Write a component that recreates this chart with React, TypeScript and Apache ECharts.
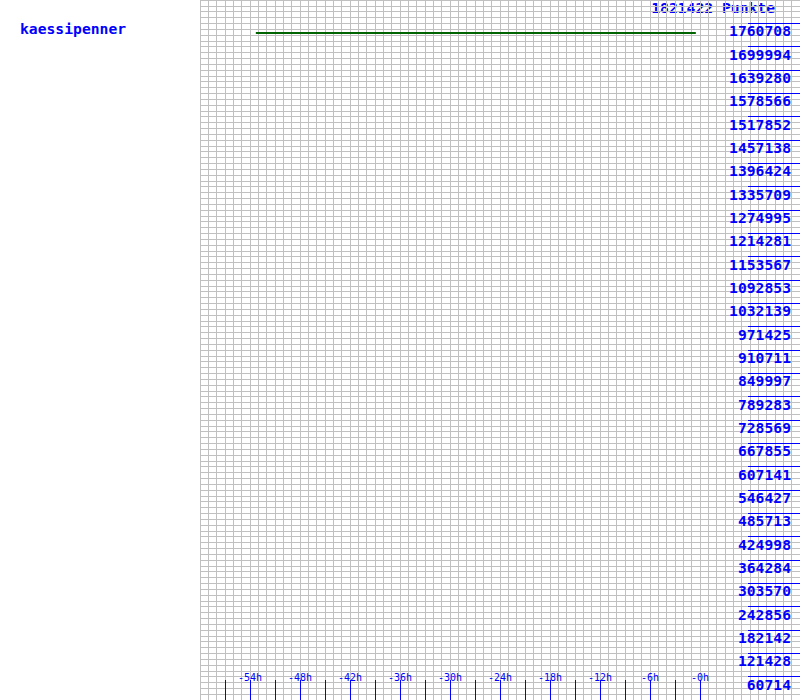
import React, { useEffect, useRef } from "react";
import * as echarts from "echarts";

// ---- data ----
const playerName = "kaessipenner";
const maxPoints = 1821422; // top of the y scale
const yLabelSteps = 30; // labelled steps on the y scale
const yGridRows = 120; // grey grid rows
const xMinHours = -60;
const xMaxHours = 12;
const xTickHours = [-57, -54, -51, -48, -45, -42, -39, -36, -33, -30, -27, -24, -21, -18, -15, -12, -9, -6, -3, 0];
const xLabelHours = [-54, -48, -42, -36, -30, -24, -18, -12, -6, 0];
const hoursX = [-53.3, -0.5];
const pointsY = [1735600, 1735600];

const BLUE = "#0000ff";
const GRID = "#c0c0c0";
const FONT = "DejaVu Sans Mono";
const FS = 14.7;

const yStepValues: number[] = [];
for (let k = 1; k < yLabelSteps; k++) yStepValues.push(k);

export default function App() {
  const ref = useRef<HTMLDivElement>(null);
  useEffect(() => {
    if (!ref.current) return;
    const chart = echarts.init(ref.current, null, { renderer: "svg" });
    const data = hoursX.map((h, i) => [h, pointsY[i]]);
    chart.setOption({
      animation: false,
      backgroundColor: "#ffffff",
      grid: { left: 200, right: 0, top: 0, bottom: 0, containLabel: false },
      xAxis: [
        {
          type: "value",
          min: xMinHours,
          max: xMaxHours,
          interval: 1,
          axisLine: { show: false },
          axisTick: { show: false },
          axisLabel: { show: false },
          splitLine: { show: true, lineStyle: { color: GRID, width: 1 } },
        },
        {
          type: "value",
          min: xMinHours,
          max: xMaxHours,
          position: "bottom",
          axisLine: { show: false },
          axisTick: {
            show: true,
            inside: true,
            length: 20,
            customValues: xTickHours,
            lineStyle: { color: BLUE, width: 1 },
          },
          axisLabel: {
            show: true,
            inside: true,
            margin: 18,
            color: BLUE,
            fontFamily: FONT,
            fontSize: 10,
            customValues: xLabelHours,
            formatter: (v: number) => `-${Math.abs(Math.round(v))}h`,
          },
          splitLine: { show: false },
        },
      ],
      yAxis: [
        {
          type: "value",
          min: 0,
          max: maxPoints,
          axisLine: { show: false },
          axisTick: { show: false },
          axisLabel: { show: false },
          splitLine: { show: false },
        },
        {
          type: "value",
          min: 0,
          max: yGridRows,
          interval: 1,
          position: "left",
          axisLine: { show: false },
          axisTick: { show: false },
          axisLabel: { show: false },
          splitLine: { show: true, lineStyle: { color: GRID, width: 1 } },
        },
        {
          type: "value",
          min: 0,
          max: yLabelSteps,
          position: "right",
          axisLine: { show: false },
          axisTick: {
            show: true,
            inside: true,
            length: 52,
            customValues: yStepValues,
            lineStyle: { color: BLUE, width: 1 },
          },
          axisLabel: {
            show: true,
            inside: true,
            margin: 9,
            color: BLUE,
            fontFamily: FONT,
            fontWeight: "bold",
            fontSize: FS,
            verticalAlign: "top",
            customValues: yStepValues,
            formatter: (v: number) => String(Math.round((v * maxPoints) / yLabelSteps)),
          },
          splitLine: { show: false },
        },
      ],
      graphic: [
        {
          type: "text",
          left: 20,
          top: 21,
          style: {
            text: playerName,
            fill: BLUE,
            font: `bold ${FS}px "${FONT}"`,
          },
        },
        {
          type: "text",
          x: 775,
          y: 0,
          style: {
            text: `${maxPoints} Punkte`,
            fill: BLUE,
            font: `bold ${FS}px "${FONT}"`,
            textAlign: "right",
            textVerticalAlign: "top",
          },
        },
      ],
      series: [
        {
          name: playerName,
          type: "line",
          xAxisIndex: 0,
          yAxisIndex: 0,
          data,
          symbol: "none",
          lineStyle: { color: "#006400", width: 2 },
        },
      ],
    });
    return () => chart.dispose();
  }, []);
  return (
    <div
      ref={ref}
      style={{ position: "fixed", left: 0, top: 0, width: 800, height: 700 }}
    />
  );
}
